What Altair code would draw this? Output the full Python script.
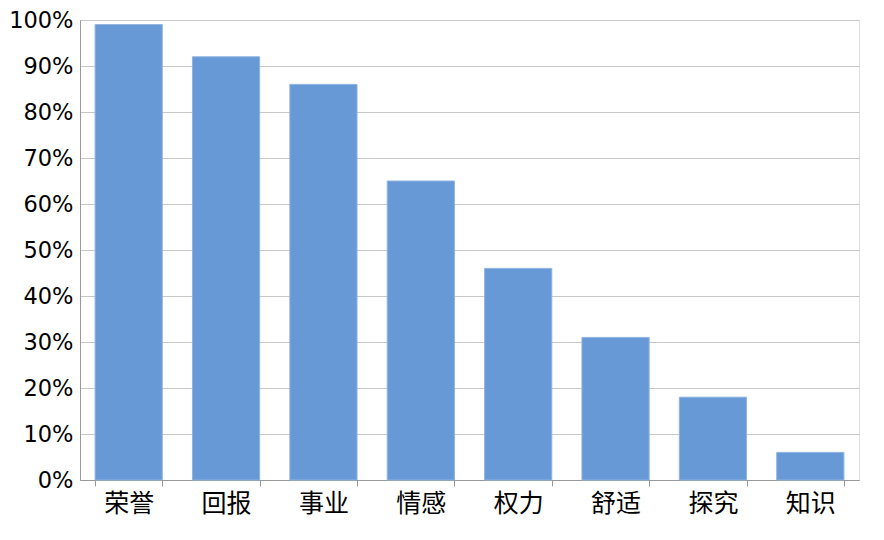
import altair as alt
import pandas as pd

categories = ["荣誉", "回报", "事业", "情感", "权力", "舒适", "探究", "知识"]
values = [0.99, 0.92, 0.86, 0.65, 0.46, 0.31, 0.18, 0.06]

df = pd.DataFrame({"cat": categories, "val": values})

chart = alt.Chart(df).mark_bar(
    color="#6699d6", stroke="#8fb3e0", strokeWidth=1
).encode(
    x=alt.X("cat:N", sort=categories, title=None,
            scale=alt.Scale(paddingInner=0.31, paddingOuter=0.155),
            axis=alt.Axis(labelAngle=0, labelFont="Noto Sans CJK SC", labelFontSize=25,
                          labelColor="#000", tickBand="extent", tickSize=6,
                          tickColor="#999", domainColor="#999", labelPadding=5,
                          grid=False)),
    y=alt.Y("val:Q", title=None,
            scale=alt.Scale(domain=[0, 1]),
            axis=alt.Axis(format=".0%", values=[i / 10 for i in range(11)],
                          labelFont="DejaVu Sans", labelFontSize=22.5, labelColor="#000",
                          ticks=False, labelPadding=7, domainColor="#999",
                          gridColor="#c8c8c8", gridWidth=1)),
).properties(
    width=779, height=460,
    autosize=alt.AutoSizeParams(type="none"),
    padding={"left": 72, "top": 12, "right": 17, "bottom": 52},
).configure_view(stroke="#c8c8c8").configure(background="white")

chart.save("out.html", embed_options={"renderer": "svg", "actions": False})
